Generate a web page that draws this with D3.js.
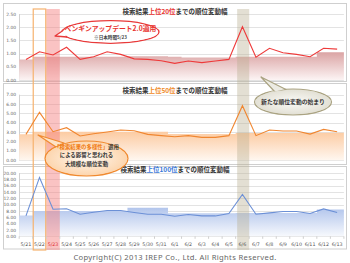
<!DOCTYPE html>
<html>
<head>
<meta charset="utf-8">
<script src="https://d3js.org/d3.v7.min.js"></script>
<style>
  body { margin: 0; background: #fff; }
  svg { display: block; font-family: "Noto Sans CJK JP", "Noto Sans", sans-serif; }
</style>
</head>
<body>
<div id="chart"></div>
<script>
// dates on the x axis
const dates = ["5/21","5/22","5/23","5/24","5/25","5/26","5/27","5/28","5/29","5/30","5/31",
  "6/1","6/2","6/3","6/4","6/5","6/6","6/7","6/8","6/9","6/10","6/11","6/12","6/13"];

// daily rank change, top 20 / 50 / 100
const top20 = [0.78,1.07,0.95,1.24,0.78,0.88,1.07,0.97,0.80,0.78,0.73,0.63,
  0.72,0.66,0.72,0.78,2.02,0.86,1.20,1.03,0.97,0.88,1.20,1.17];
const top50 = [2.77,5.12,3.05,3.48,2.60,2.84,3.02,3.23,3.16,2.77,2.63,2.52,
  2.63,2.45,2.45,2.63,5.83,2.63,3.23,3.13,3.13,2.80,3.30,3.05];
const top100 = [6.44,18.6,8.57,8.70,6.98,7.60,8.15,8.15,7.52,6.98,6.98,6.35,
  6.88,6.44,6.44,7.20,13.2,6.98,7.40,7.84,7.84,7.20,8.67,7.52];

// shaded average level
const top20Avg = [0.78,0.88,0.88,0.88,0.88,0.88,0.88,0.88,0.90,0.90,0.90,0.88,
  0.85,0.85,0.85,0.85,0.88,0.88,0.88,0.88,0.88,0.88,1.05,1.05];
const top50Avg = [2.77,3.05,3.05,3.05,3.05,3.05,3.05,3.05,3.05,3.05,3.05,2.80,
  2.80,2.80,2.80,2.80,2.90,2.90,2.90,2.90,2.90,2.90,2.95,2.95];
const top100Avg = [6.60,8.00,8.00,8.00,8.00,8.00,8.00,8.00,9.00,9.00,9.00,7.30,
  7.30,7.30,7.30,7.30,7.40,7.40,7.40,7.40,7.40,7.40,8.50,8.50];

const yTicks20 = [0,0.5,1,1.5,2,2.5];
const yTicks50 = [0,1,2,3,4,5,6,7];
const yTicks100 = [0,2,4,6,8,10,12,14,16,18,20];

const W = 350, H = 263;
const svg = d3.select("#chart").append("svg").attr("width", W).attr("height", H);
const defs = svg.append("defs");

const x = d3.scaleBand().domain(dates).range([19.2, 343.9]).padding(0);
const cx = d => x(d) + x.bandwidth() / 2;

const panels = [
  { key: "p20", top: 3.5, bottom: 81.5, label: "上位20位", lcol: "#e8322e", line: "#ee3a3a",
    area: ["#dba4a4", "#fcf4f4"], values: top20, avg: top20Avg, ticks: yTicks20,
    y: d3.scaleLinear().domain([0, 2.5]).range([80, 14]), titleY: 12 },
  { key: "p50", top: 83.5, bottom: 164.5, label: "上位50位", lcol: "#f08a24", line: "#f08630",
    area: ["#fccba2", "#fff7f0"], values: top50, avg: top50Avg, ticks: yTicks50,
    y: d3.scaleLinear().domain([0, 7]).range([160.3, 94.7]), titleY: 90.5 },
  { key: "p100", top: 166.5, bottom: 249, label: "上位100位", lcol: "#3a78d8", line: "#6c90d6",
    area: ["#b2c5ec", "#f7f9fd"], values: top100, avg: top100Avg, ticks: yTicks100,
    y: d3.scaleLinear().domain([0, 20]).range([236.3, 173]), titleY: 170 }
];

// panel frames
panels.forEach(p => {
  svg.append("rect")
    .attr("x", 3.5).attr("y", p.top).attr("width", 343).attr("height", p.bottom - p.top)
    .attr("fill", "#fff").attr("stroke", "#cfcfcf").attr("stroke-width", 1);
});

const gPlots = svg.append("g");
panels.forEach(p => {
  const g = gPlots.append("g");
  // gridlines and y labels
  g.selectAll("line.grid").data(p.ticks).join("line")
    .attr("x1", 19.2).attr("x2", 343.9)
    .attr("y1", d => Math.round(p.y(d)) + 0.5).attr("y2", d => Math.round(p.y(d)) + 0.5)
    .attr("stroke", "#e3e3e3").attr("stroke-width", 1);
  g.selectAll("text.yl").data(p.ticks).join("text")
    .attr("x", 16).attr("y", d => p.y(d)).attr("dy", "0.35em")
    .attr("text-anchor", "end").attr("font-size", 4.4).attr("fill", "#666")
    .attr("font-family", "DejaVu Sans, sans-serif")
    .text(d => d.toFixed(2));
  g.append("line").attr("x1", 19.5).attr("x2", 19.5)
    .attr("y1", p.y.range()[1]).attr("y2", p.y.range()[0])
    .attr("stroke", "#d0d0d0");

  // gradient for the average area
  const grad = defs.append("linearGradient").attr("id", "g" + p.key)
    .attr("gradientUnits", "userSpaceOnUse")
    .attr("x1", 0).attr("x2", 0)
    .attr("y1", p.y(d3.max(p.avg))).attr("y2", p.y(0));
  grad.append("stop").attr("offset", "0%").attr("stop-color", p.area[0]);
  grad.append("stop").attr("offset", "100%").attr("stop-color", p.area[1]);

  const stepPts = p.avg.map((v, i) => [x(dates[i]), v]);
  stepPts.push([x(dates[dates.length - 1]) + x.bandwidth(), p.avg[p.avg.length - 1]]);
  const area = d3.area().x(d => d[0]).y0(p.y(0)).y1(d => p.y(d[1])).curve(d3.curveStepAfter);
  g.append("path").datum(stepPts).attr("d", area).attr("fill", `url(#g${p.key})`);
});

// highlight bands
const bandTop = 9, bandBottom = 250;
svg.append("rect").attr("x", x("5/23")).attr("y", bandTop)
  .attr("width", x.bandwidth()).attr("height", bandBottom - bandTop)
  .attr("fill", "#f47a7a").attr("opacity", 0.45);
svg.append("rect").attr("x", x("6/6") + 1.5).attr("y", bandTop)
  .attr("width", x.bandwidth() - 1.5).attr("height", bandBottom - bandTop)
  .attr("fill", "#b8b092").attr("opacity", 0.4);
svg.append("rect").attr("x", x("5/22") + 0.5).attr("y", bandTop)
  .attr("width", x.bandwidth() - 1).attr("height", bandBottom - bandTop)
  .attr("fill", "none").attr("stroke", "#f6b26e").attr("stroke-width", 1.2);

// lines
panels.forEach(p => {
  const line = d3.line().x((d, i) => cx(dates[i])).y(d => p.y(d));
  svg.append("path").datum(p.values).attr("d", line)
    .attr("fill", "none").attr("stroke", p.line).attr("stroke-width", 1.1);
});

// titles
panels.forEach(p => {
  const t = svg.append("text").attr("x", 175).attr("y", p.titleY).attr("dy", "0.35em")
    .attr("text-anchor", "middle").attr("font-size", 6.5).attr("font-weight", "bold")
    .attr("fill", "#333");
  t.append("tspan").text("検索結果");
  t.append("tspan").attr("fill", p.lcol).text(p.label);
  t.append("tspan").text("までの順位変動幅");
});

// x axis ticks + labels
const yb = panels[2].y(0);
svg.selectAll("line.xt").data(dates.concat(["end"])).join("line")
  .attr("x1", (d, i) => 19.2 + i * x.step()).attr("x2", (d, i) => 19.2 + i * x.step())
  .attr("y1", yb).attr("y2", yb + 2.5).attr("stroke", "#cfcfcf");
svg.selectAll("text.xl").data(dates).join("text")
  .attr("x", d => cx(d)).attr("y", 244).attr("dy", "0.35em")
  .attr("text-anchor", "middle").attr("font-size", 4.8)
  .attr("font-family", "DejaVu Sans, sans-serif")
  .attr("fill", d => d === "5/23" ? "#e03030" : "#555")
  .text(d => d);

// radial fills for callouts
function radial(id, inner, outer) {
  const r = defs.append("radialGradient").attr("id", id).attr("r", "65%");
  r.append("stop").attr("offset", "0%").attr("stop-color", inner);
  r.append("stop").attr("offset", "100%").attr("stop-color", outer);
  return `url(#${id})`;
}

// callouts
function callout(c) {
  const g = svg.append("g");
  g.append("ellipse").attr("cx", c.cx).attr("cy", c.cy).attr("rx", c.rx).attr("ry", c.ry)
    .attr("fill", c.fill).attr("stroke", c.stroke).attr("stroke-width", c.sw);
  g.append("path").attr("d", d3.line()(c.tail) + "Z")
    .attr("fill", c.tailFill || c.fill).attr("stroke", c.stroke).attr("stroke-width", c.sw)
    .attr("stroke-linejoin", "round");
  g.append("ellipse").attr("cx", c.cx).attr("cy", c.cy).attr("rx", c.rx - c.sw / 2 - 0.3)
    .attr("ry", c.ry - c.sw / 2 - 0.3).attr("fill", c.fill);
  c.lines.forEach(l => {
    const t = g.append("text").attr("x", c.cx).attr("y", l.y).attr("dy", "0.35em")
      .attr("text-anchor", "middle").attr("font-size", l.size).attr("font-weight", "bold");
    l.parts.forEach(pt => t.append("tspan").attr("fill", pt[1]).text(pt[0]));
  });
}

callout({ cx: 110.5, cy: 32, rx: 48.5, ry: 11.3, fill: "#fff", stroke: "#e83a3a", sw: 1.3,
  tail: [[64.5, 29.5], [55, 36], [67, 37]],
  lines: [
    { y: 28.5, size: 6.8, parts: [["ペンギンアップデート2.0適用", "#e8322e"]] },
    { y: 37, size: 4.6, parts: [["※日本時間5/23", "#444"]] }
  ] });

callout({ cx: 86.5, cy: 158.5, rx: 41.5, ry: 17.5, fill: radial("rg2", "#fff8f0", "#fccc9c"),
  tailFill: "#fde2c6", stroke: "#f08a30", sw: 1.2,
  tail: [[56, 147], [38, 135], [64, 143]],
  lines: [
    { y: 147, size: 5.4, parts: [["「検索結果の多様性」", "#f07a10"], ["適用", "#333"]] },
    { y: 155.5, size: 5.4, parts: [["による影響と思われる", "#333"]] },
    { y: 164, size: 5.4, parts: [["大規模な順位変動", "#333"]] }
  ] });

callout({ cx: 293, cy: 102, rx: 38.5, ry: 13, fill: radial("rg3", "#fbfbf8", "#dcd9cb"),
  tailFill: "#ecebe3", stroke: "#aaa382", sw: 1.2,
  tail: [[275, 92], [261, 77], [286, 89.5]],
  lines: [
    { y: 102, size: 5.8, parts: [["新たな順位変動の始まり", "#333"]] }
  ] });

// footer
svg.append("text").attr("x", 175).attr("y", 257).attr("dy", "0.35em")
  .attr("text-anchor", "middle").attr("font-size", 7.6).attr("letter-spacing", 0.35)
  .attr("fill", "#666").attr("font-family", "Noto Sans, sans-serif")
  .text("Copyright(C) 2013 IREP Co., Ltd. All Rights Reserved.");
</script>
</body>
</html>
